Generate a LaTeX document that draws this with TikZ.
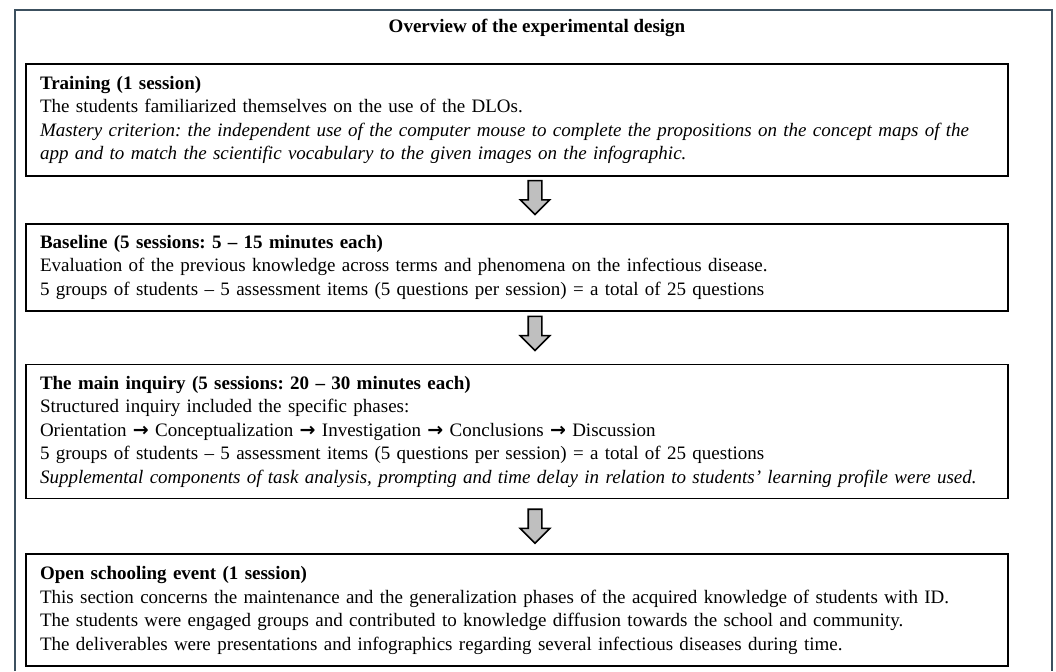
\documentclass[tikz,border=0pt]{standalone}
\usepackage{fontspec}
\setmainfont{Liberation Serif}
\newfontfamily\arrowfont{DejaVu Sans}
\usetikzlibrary{shapes,arrows,positioning}

\newcommand{\phasearrow}{{\arrowfont\bfseries\char"2192}}

\begin{document}
\begin{tikzpicture}[x=0.5pt,y=-0.5pt,semithick,
stage/.style={rectangle, draw, line width=0.9pt, text width=477pt, inner xsep=7pt, inner ysep=4pt, align=left, font=\fontsize{9.5}{11.75}\selectfont\frenchspacing},
downarrow/.style={single arrow, draw, fill=gray!50, shape border rotate=270, minimum height=17pt, single arrow head extend=4pt, inner sep=3pt, line width=0.8pt},
frame/.style={draw={rgb,255:red,60;green,80;blue,95}, line width=1pt}] % stage = one box of the design, downarrow = the grey block arrow between two boxes
\useasboundingbox (0,0) rectangle (1056,671);
\draw[frame] (15,671) -- (15,10) -- (1052,10) -- (1052,671); % outer frame, it runs off the bottom

\node[font=\fontsize{9.5}{12}\selectfont\bfseries](title) at (537,28){Overview of the experimental design};

\node[stage, minimum height=56pt, anchor=north](train) at (517,63){\textbf{Training (1 session)}\\
The students familiarized  themselves on the use of the DLOs.\\
\textit{Mastery criterion: the independent use of the computer mouse to complete the propositions on the concept maps of the}\\
\textit{app and to match the scientific vocabulary to the given images on the infographic.}};
\node[stage, minimum height=43.5pt, below=23pt of train](base){\textbf{Baseline (5 sessions: 5 -- 15 minutes each)}\\
Evaluation  of the previous knowledge across terms and phenomena on the infectious disease.\\
5 groups of students -- 5 assessment items (5 questions per session) = a total of 25 questions};
\node[stage, minimum height=67pt, below=26pt of base](inquiry){\textbf{The main inquiry (5 sessions: 20 -- 30 minutes each)}\\
Structured inquiry included the specific phases:\\
Orientation \phasearrow{} Conceptualization \phasearrow{} Investigation \phasearrow{} Conclusions \phasearrow{} Discussion\\
5 groups of students -- 5 assessment items (5 questions per session) = a total of 25 questions\\
\textit{Supplemental components of task analysis, prompting and time delay  in relation to students' learning profile were used.}};
\node[stage, minimum height=56pt, below=27pt of inquiry](open){\textbf{Open schooling event (1 session)}\\
This  section concerns the maintenance and the generalization  phases of the acquired knowledge of students with ID.\\
The students were engaged groups and contributed to knowledge  diffusion towards the school and community.\\
The deliverables  were presentations and infographics regarding  several infectious diseases during time.};

% arrows hang just under each box, a bit right of the middle
\node[downarrow, anchor=tail](a1) at ([xshift=9pt,yshift=-1.5pt]train.south){};
\node[downarrow, anchor=tail](a2) at ([xshift=9pt,yshift=-2pt]base.south){};
\node[downarrow, anchor=tail](a3) at ([xshift=9pt,yshift=-4.5pt]inquiry.south){};

\end{tikzpicture}
\end{document}
